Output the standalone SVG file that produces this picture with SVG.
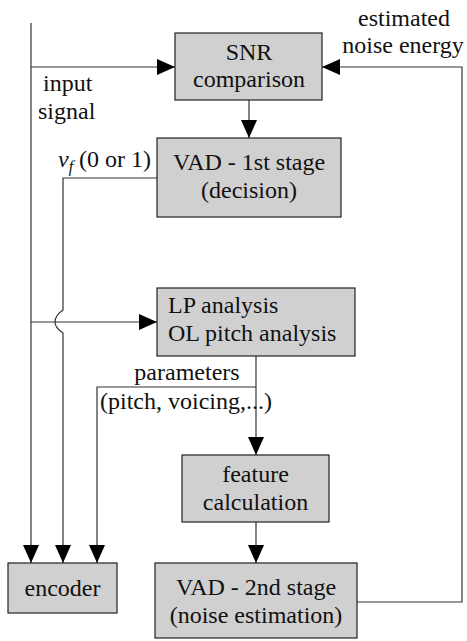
<svg xmlns="http://www.w3.org/2000/svg" width="467" height="641" viewBox="0 0 467 641" font-family="'Liberation Serif', 'DejaVu Serif', serif" font-size="24">
<style>
.box{fill:#d0d0d0;stroke:#222;stroke-width:1.2}
.ln{fill:none;stroke:#333;stroke-width:1.2}
text{fill:#111}
.c{text-anchor:middle}
</style>
<defs>
<marker id="ah" viewBox="0 0 18 16" refX="18" refY="8" markerWidth="18" markerHeight="16" markerUnits="userSpaceOnUse" orient="auto">
<path d="M0,0 L18,8 L0,16 Z" fill="#000"/>
</marker>
</defs>
<g id="connectors">
<path class="ln" d="M31,23 V563" marker-end="url(#ah)"/>
<path class="ln" d="M31,67 H175" marker-end="url(#ah)"/>
<path class="ln" d="M31,322 H157" marker-end="url(#ah)"/>
<path class="ln" d="M249,100 V138" marker-end="url(#ah)"/>
<path class="ln" d="M157,178 H63 V310 C57,314 55,318 55,322 C55,326 57,329 63,333 V563" marker-end="url(#ah)"/>
<path class="ln" d="M256,356 V455" marker-end="url(#ah)"/>
<path class="ln" d="M256,387 H97 V563" marker-end="url(#ah)"/>
<path class="ln" d="M256,522 V563" marker-end="url(#ah)"/>
<path class="ln" d="M357,602 H462 V67 H322" marker-end="url(#ah)"/>
</g>
<g id="snr">
<rect class="box" x="175" y="33" width="147" height="67"/>
<text class="c" x="249" y="60">SNR</text>
<text class="c" x="249" y="87">comparison</text>
</g>
<g id="vad1">
<rect class="box" x="157" y="138" width="184" height="79"/>
<text class="c" x="249" y="170">VAD - 1st stage</text>
<text class="c" x="249" y="198">(decision)</text>
</g>
<g id="lp">
<rect class="box" x="157" y="288" width="198" height="68"/>
<text x="168" y="313">LP analysis</text>
<text x="168" y="341">OL pitch analysis</text>
</g>
<g id="feature">
<rect class="box" x="182" y="455" width="147" height="67"/>
<text class="c" x="255.5" y="482">feature</text>
<text class="c" x="255.5" y="510">calculation</text>
</g>
<g id="vad2">
<rect class="box" x="155" y="563" width="202" height="75"/>
<text class="c" x="256" y="595">VAD - 2nd stage</text>
<text class="c" x="256" y="623">(noise estimation)</text>
</g>
<g id="encoder">
<rect class="box" x="8" y="563" width="109" height="50"/>
<text class="c" x="62.5" y="596">encoder</text>
</g>
<g id="labels">
<text x="43" y="91">input</text>
<text x="38" y="119">signal</text>
<text x="58" y="167"><tspan font-style="italic">v</tspan><tspan font-style="italic" font-size="16" dy="5">f</tspan><tspan dy="-5"> (0 or 1)</tspan></text>
<text class="c" x="404" y="26">estimated</text>
<text class="c" x="403" y="53">noise energy</text>
<text class="c" x="187" y="380">parameters</text>
<text class="c" x="186" y="409">(pitch, voicing,...)</text>
</g>
</svg>
